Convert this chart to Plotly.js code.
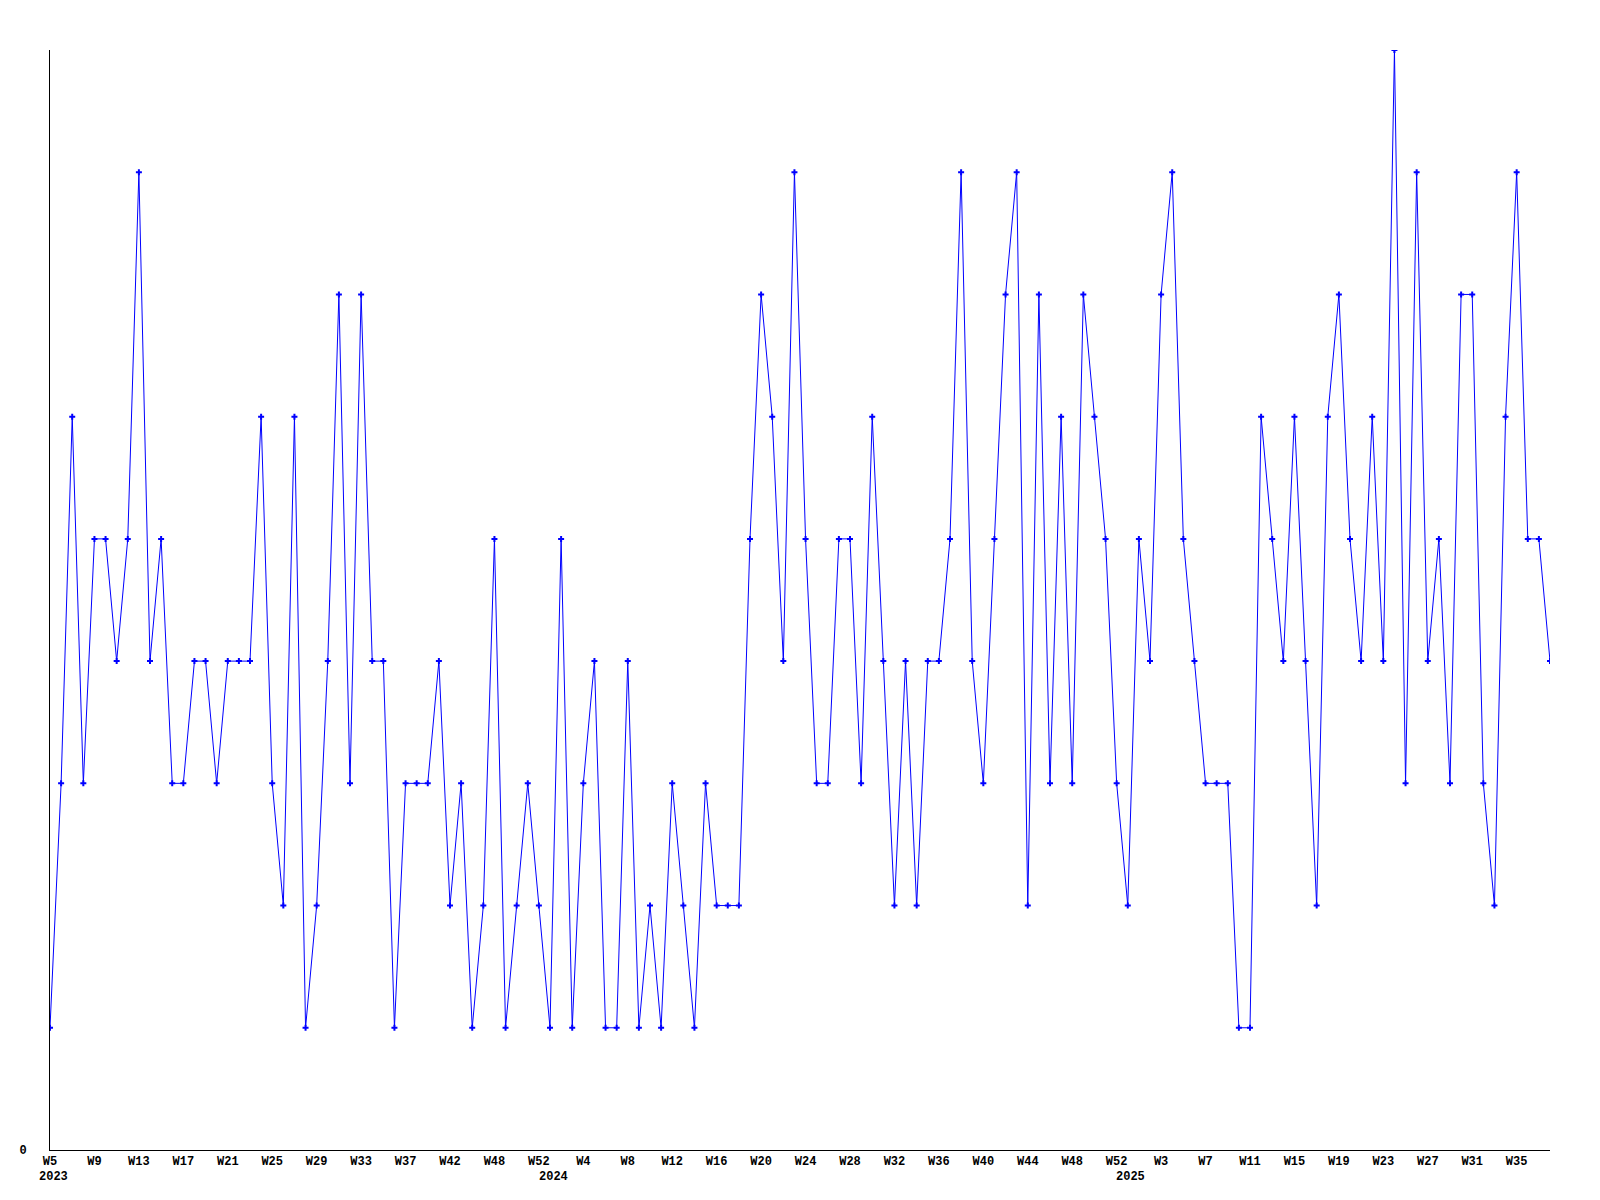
<!DOCTYPE html>
<html>
<head>
<meta charset="utf-8">
<script src="https://cdn.plot.ly/plotly-3.0.1.min.js"></script>
<style>
  html, body { margin: 0; padding: 0; background: #ffffff; }
  #chart { width: 1600px; height: 1200px; }
</style>
</head>
<body>
<div id="chart"></div>
<script>
// Week numbers present in the data, per year
const weeks2023 = [5,6,7,8,9,10,11,12,13,14,15,16,17,18,19,20,21,22,23,24,25,26,27,28,29,30,31,32,33,34,35,36,37,38,39,41,42,44,45,47,48,49,50,51,52];
const weeks2024 = [1,2,3,4,5,6,7,8,9,10,11,12,13,14,15,16,17,18,19,20,21,22,23,24,25,26,27,28,29,30,31,32,33,34,35,36,37,38,39,40,41,42,43,44,45,46,47,48,49,50,51,52];
const weeks2025 = [0,1,2,3,4,5,6,7,8,9,10,11,12,13,14,15,16,17,18,19,20,21,22,23,24,25,26,27,28,29,30,31,32,33,34,35,36,37,38];

// Weekly values
const values = [
  1,3,6,3,5,5,4,5,8,4,
  5,3,3,4,4,3,4,4,4,6,
  3,2,6,1,2,4,7,3,7,4,
  4,1,3,3,3,4,2,3,1,2,
  5,1,2,3,2,1,5,1,3,4,
  1,1,4,1,2,1,3,2,1,3,
  2,2,2,5,7,6,4,8,5,3,
  3,5,5,3,6,4,2,4,2,4,
  4,5,8,4,3,5,7,8,2,7,
  3,6,3,7,6,5,3,2,5,4,
  7,8,5,4,3,3,3,1,1,6,
  5,4,6,4,2,6,7,5,4,6,
  4,9,3,8,4,5,3,7,7,3,
  2,6,8,5,5,4
];

// Year labels (placed under the first week of each year in the data)
const yearLabels = ["2023", "2024", "2025"];

const pad = n => (n < 10 ? "0" + n : "" + n);
const categories = []
  .concat(weeks2023.map(w => "2023-W" + pad(w)))
  .concat(weeks2024.map(w => "2024-W" + pad(w)))
  .concat(weeks2025.map(w => "2025-W" + pad(w)));

const tickvals = categories.filter((c, i) => i % 4 === 0);
const ticktext = tickvals.map(c => "W" + parseInt(c.split("-W")[1], 10));
const yearFirstCats = yearLabels.map(y => categories.find(c => c.startsWith(y + "-")));

const font = { family: "Liberation Mono, DejaVu Sans Mono, monospace", size: 12, color: "#000000", weight: "bold" };

const trace = {
  x: categories,
  y: values,
  type: "scatter",
  mode: "lines+markers",
  line: { color: "#0000ff", width: 1 },
  marker: { color: "#0000ff", symbol: "cross", size: 5 },
  hoverinfo: "x+y"
};

const layout = {
  width: 1600,
  height: 1200,
  margin: { l: 50, r: 50, t: 50, b: 50, pad: 0 },
  paper_bgcolor: "#ffffff",
  plot_bgcolor: "#ffffff",
  showlegend: false,
  font: font,
  xaxis: {
    type: "category",
    categoryorder: "array",
    categoryarray: categories,
    range: [0, categories.length - 1],
    showgrid: false,
    zeroline: false,
    showline: true,
    linecolor: "#000000",
    linewidth: 1,
    ticks: "",
    tickmode: "array",
    tickvals: tickvals,
    ticktext: ticktext,
    tickangle: 0,
    tickfont: font,
    automargin: false
  },
  yaxis: {
    range: [0, 9],
    showgrid: false,
    zeroline: false,
    showline: true,
    linecolor: "#000000",
    linewidth: 1,
    ticks: "",
    tickmode: "array",
    tickvals: [0],
    ticktext: ["0"],
    ticklabelstandoff: 20,
    tickfont: font,
    automargin: false
  },
  annotations: yearFirstCats.map((c, i) => ({
    x: c,
    xref: "x",
    y: -27 / 1100,
    yref: "paper",
    xshift: 3,
    text: yearLabels[i],
    showarrow: false,
    xanchor: "center",
    yanchor: "middle",
    font: font
  }))
};

Plotly.newPlot("chart", [trace], layout, { displayModeBar: false, staticPlot: true });
</script>
</body>
</html>
